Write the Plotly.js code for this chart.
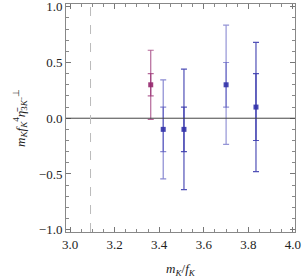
<!DOCTYPE html>
<html><head><meta charset="utf-8">
<script src="https://cdn.plot.ly/plotly-3.0.1.min.js"></script>
<style>body{margin:0;background:#fff}#c{width:303px;height:278px}</style>
</head><body><div id="c"></div>
<script>
const xVals = [3.362, 3.418, 3.511, 3.70, 3.834];
const yVals = [0.30, -0.10, -0.10, 0.30, 0.10];
const errOuter = [0.31, 0.445, 0.54, 0.535, 0.58];
const errInner = [0.10, 0.20, 0.20, 0.20, 0.30];
const colors = ['rgba(150,40,110,0.7)', 'rgba(60,60,180,0.6)', 'rgba(50,50,170,0.85)', 'rgba(60,60,180,0.55)', 'rgba(50,50,170,0.85)'];
const markerColors = ['rgba(150,40,110,0.9)', 'rgba(50,50,170,0.9)', 'rgba(50,50,170,0.9)', 'rgba(50,50,170,0.9)', 'rgba(50,50,170,0.9)'];
const xTickVals = [3.0, 3.2, 3.4, 3.6, 3.8, 4.0];
const yTickVals = [-1.0, -0.5, 0.0, 0.5, 1.0];
const yTickText = ['\u22121.0', '\u22120.5', '0.0', '0.5', '1.0'];
const xTickText = ['3.0', '3.2', '3.4', '3.6', '3.8', '4.0'];
const dashX = 3.092;

const traces = [];
for (let i = 0; i < xVals.length; i++) {
  traces.push({
    x: [xVals[i]], y: [yVals[i]], type: 'scatter', mode: 'markers',
    marker: {size: 0.1, color: 'rgba(0,0,0,0)'},
    error_y: {type: 'data', array: [errOuter[i]], color: colors[i], thickness: 1.2, width: 3},
    showlegend: false, hoverinfo: 'skip'
  });
  traces.push({
    x: [xVals[i]], y: [yVals[i]], type: 'scatter', mode: 'markers',
    marker: {symbol: 'square', size: 5, color: markerColors[i]},
    error_y: {type: 'data', array: [errInner[i]], color: colors[i], thickness: 1.2, width: 3},
    showlegend: false
  });
}

const font = {family: 'Liberation Serif, Times New Roman, serif', size: 13, color: '#222'};
const layout = {
  width: 303, height: 278,
  margin: {l: 66, r: 8, t: 4, b: 46},
  paper_bgcolor: '#fff', plot_bgcolor: '#fff',
  font: font,
  xaxis: {
    range: [2.982, 4.009], tickvals: xTickVals, ticktext: xTickText,
    ticks: 'inside', ticklen: 5, tickcolor: '#777', tickwidth: 1,
    minor: {dtick: 0.05, ticks: 'inside', ticklen: 3, tickcolor: '#888'},
    showgrid: false, zeroline: false, showline: true, linecolor: '#888', linewidth: 1,
    mirror: 'allticks', ticklabeloverflow: 'allow',
    title: {text: '<i>m</i><sub><i>K</i></sub>/<i>f</i><sub><i>K</i></sub>', font: font, standoff: 14}
  },
  yaxis: {
    range: [-1.021, 1.025], tickvals: yTickVals, ticktext: yTickText,
    ticks: 'inside', ticklen: 5, tickcolor: '#777', tickwidth: 1,
    minor: {dtick: 0.1, ticks: 'inside', ticklen: 3, tickcolor: '#888'},
    showgrid: false, zeroline: false, showline: true, linecolor: '#888', linewidth: 1,
    mirror: 'allticks', ticklabeloverflow: 'allow',
    title: {text: '<i>m</i><sub><i>K</i></sub><i>f</i><sub><i>K</i></sub><sup>4</sup><i>\u03B7\u0304</i><sub>3<i>K</i>\u207B</sub><sup>\u22A5</sup>', font: font, standoff: 10}
  },
  shapes: [
    {type: 'line', xref: 'paper', x0: 0, x1: 1, yref: 'y', y0: 0, y1: 0, line: {color: '#444', width: 1}},
    {type: 'line', xref: 'x', x0: dashX, x1: dashX, yref: 'paper', y0: 0, y1: 1, line: {color: '#bbb', width: 1, dash: 'dash'}}
  ]
};
Plotly.newPlot('c', traces, layout, {staticPlot: true, displayModeBar: false});
</script></body></html>
